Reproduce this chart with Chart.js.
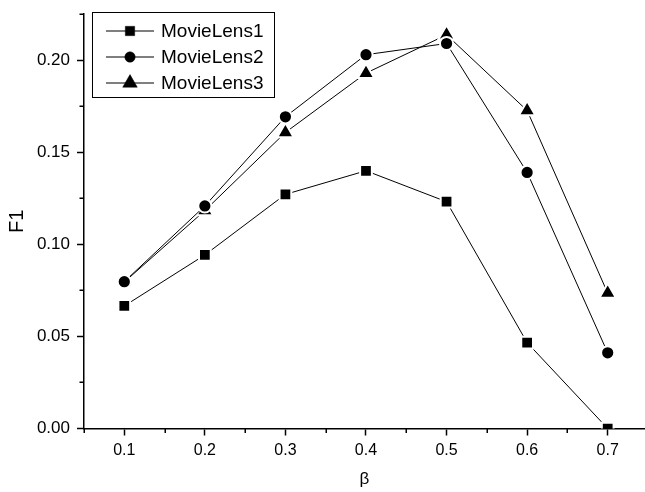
<!DOCTYPE html>
<html>
<head>
<meta charset="utf-8">
<script src="https://cdn.jsdelivr.net/npm/chart.js@4/dist/chart.umd.min.js"></script>
<style>
  html, body { margin: 0; padding: 0; overflow: hidden; background: #ffffff; }
  #wrap { width: 645px; height: 492px; position: relative; overflow: hidden; }
  #c { display: block; width: 645px; height: 492px; }
</style>
</head>
<body>
<div id="wrap"><canvas id="c" width="645" height="492"></canvas></div>
<script>
// ---- data ----
const betaValues = [0.1, 0.2, 0.3, 0.4, 0.5, 0.6, 0.7];
const movieLens1 = [0.0665, 0.0942, 0.1271, 0.1399, 0.1231, 0.0466, 0.0000];
const movieLens2 = [0.0797, 0.1208, 0.1692, 0.2029, 0.2090, 0.1390, 0.0411];
const movieLens3 = [0.0795, 0.1183, 0.1607, 0.1929, 0.2137, 0.1726, 0.0735];
const seriesNames = ['MovieLens1', 'MovieLens2', 'MovieLens3'];

const xMajorTicks = [0.1, 0.2, 0.3, 0.4, 0.5, 0.6, 0.7];
const xMinorTicks = [0.05, 0.15, 0.25, 0.35, 0.45, 0.55, 0.65];
const yMajorTicks = [0.00, 0.05, 0.10, 0.15, 0.20];
const yMinorTicks = [0.025, 0.075, 0.125, 0.175, 0.225];
const xAxisTitle = 'β';
const yAxisTitle = 'F1';

// axis ranges (x axis runs past the right edge of the picture)
const xMin = 0.05, xMax = 0.7463;
const yMin = 0, yMax = 0.225;

// ---- styling ----
const FONT = "'Liberation Sans', Arial, Helvetica, sans-serif";
const markerStyles = [
  { pointStyle: 'rect', radius: 8.3, legendRadius: 6.6 },
  { pointStyle: 'circle', radius: 6.6, legendRadius: 5.2 },
  { pointStyle: 'triangle', radius: 9.5, legendRadius: 8.4 }
];
const seriesValues = [movieLens1, movieLens2, movieLens3];

const datasets = seriesValues.map((vals, i) => ({
  label: seriesNames[i],
  data: betaValues.map((b, k) => ({ x: b, y: vals[k] })),
  borderColor: '#000000',
  borderWidth: 1,
  backgroundColor: '#000000',
  pointStyle: markerStyles[i].pointStyle,
  pointRadius: markerStyles[i].radius,
  pointBackgroundColor: '#000000',
  pointBorderColor: '#ffffff',
  pointBorderWidth: 2,
  tension: 0,
  fill: false
}));

function drawMarker(ctx, style, x, y, r) {
  ctx.beginPath();
  if (style === 'rect') {
    const s = Math.SQRT1_2 * r;
    ctx.rect(x - s, y - s, 2 * s, 2 * s);
  } else if (style === 'circle') {
    ctx.arc(x, y, r, 0, Math.PI * 2);
  } else if (style === 'triangle') {
    let rad = 0;
    ctx.moveTo(x + Math.sin(rad) * r, y - Math.cos(rad) * r);
    rad += 2 * Math.PI / 3;
    ctx.lineTo(x + Math.sin(rad) * r, y - Math.cos(rad) * r);
    rad += 2 * Math.PI / 3;
    ctx.lineTo(x + Math.sin(rad) * r, y - Math.cos(rad) * r);
  }
  ctx.closePath();
  ctx.fill();
  ctx.stroke();
}

const zeroPadding = () => ({ left: 0, top: 0, right: 0, bottom: 0 });
function noScalePadding(s) { s.getPadding = zeroPadding; }

const minorTicksPlugin = {
  id: 'minorTicks',
  afterDraw(chart) {
    const { ctx } = chart;
    const xs = chart.scales.x, ys = chart.scales.y;
    ctx.save();
    ctx.strokeStyle = '#000000';
    ctx.lineWidth = 1.5;
    xMinorTicks.forEach(v => {
      const px = Math.round(xs.getPixelForValue(v)) + 0.25;
      ctx.beginPath();
      ctx.moveTo(px, xs.top);
      ctx.lineTo(px, xs.top + 4.5);
      ctx.stroke();
    });
    yMinorTicks.forEach(v => {
      const py = Math.round(ys.getPixelForValue(v)) + 0.25;
      ctx.beginPath();
      ctx.moveTo(ys.right, py);
      ctx.lineTo(ys.right - 4.5, py);
      ctx.stroke();
    });
    ctx.restore();
  }
};

const boxLegendPlugin = {
  id: 'boxLegend',
  afterDraw(chart) {
    const { ctx } = chart;
    const box = { left: 92, top: 12, width: 182, height: 85 };
    const rowTop = 31, rowStep = 26;
    ctx.save();
    ctx.strokeStyle = '#000000';
    ctx.lineWidth = 1;
    ctx.fillStyle = '#ffffff';
    ctx.fillRect(box.left, box.top, box.width, box.height);
    ctx.strokeRect(box.left + 0.5, box.top + 0.5, box.width, box.height);
    chart.data.datasets.forEach((ds, i) => {
      const cy = rowTop + i * rowStep;
      ctx.strokeStyle = '#000000';
      ctx.lineWidth = 1.2;
      ctx.beginPath();
      ctx.moveTo(106, cy);
      ctx.lineTo(154, cy);
      ctx.stroke();
      ctx.fillStyle = '#000000';
      ctx.strokeStyle = '#000000';
      ctx.lineWidth = 0.5;
      drawMarker(ctx, markerStyles[i].pointStyle, 130, cy, markerStyles[i].legendRadius);
      ctx.fillStyle = '#000000';
      ctx.font = '19px ' + FONT;
      ctx.textAlign = 'left';
      ctx.textBaseline = 'middle';
      ctx.fillText(ds.label, 161, cy + 1);
    });
    ctx.restore();
  }
};

new Chart(document.getElementById('c'), {
  type: 'line',
  data: { datasets },
  plugins: [minorTicksPlugin, boxLegendPlugin],
  options: {
    responsive: false,
    animation: false,
    devicePixelRatio: 1,
    events: [],
    layout: { autoPadding: false, padding: { top: 14, right: 0, left: 0, bottom: 0 } },
    plugins: {
      legend: { display: false },
      title: { display: false },
      tooltip: { enabled: false }
    },
    scales: {
      x: {
        type: 'linear',
        position: 'bottom',
        min: xMin,
        max: xMax,
        z: 1,
        beforeUpdate: noScalePadding,
        afterBuildTicks: s => { s.ticks = xMajorTicks.map(v => ({ value: v })); },
        afterFit: s => { s.height = 63.5; },
        grid: { drawOnChartArea: false, drawTicks: true, tickLength: 7, tickWidth: 1.5, tickColor: '#000000' },
        border: { display: true, color: '#000000', width: 1.5 },
        ticks: {
          color: '#000000',
          font: { family: FONT, size: 16 },
          padding: 5,
          maxRotation: 0,
          autoSkip: false,
          callback: v => Number(v).toFixed(1)
        },
        title: {
          display: true,
          text: xAxisTitle,
          color: '#000000',
          font: { family: FONT, size: 17 },
          padding: { top: 0, bottom: 2 }
        }
      },
      y: {
        type: 'linear',
        position: 'left',
        min: yMin,
        max: yMax,
        z: 1,
        beforeUpdate: noScalePadding,
        afterBuildTicks: s => { s.ticks = yMajorTicks.map(v => ({ value: v })); },
        afterFit: s => { s.width = 84; },
        grid: { drawOnChartArea: false, drawTicks: true, tickLength: 7, tickWidth: 1.5, tickColor: '#000000' },
        border: { display: true, color: '#000000', width: 1.5 },
        ticks: {
          color: '#000000',
          font: { family: FONT, size: 17 },
          padding: 7,
          autoSkip: false,
          callback: v => Number(v).toFixed(2)
        },
        title: {
          display: true,
          text: yAxisTitle,
          color: '#000000',
          font: { family: FONT, size: 20 },
          padding: { top: 5.5, bottom: 0 }
        }
      }
    }
  }
});
</script>
</body>
</html>
